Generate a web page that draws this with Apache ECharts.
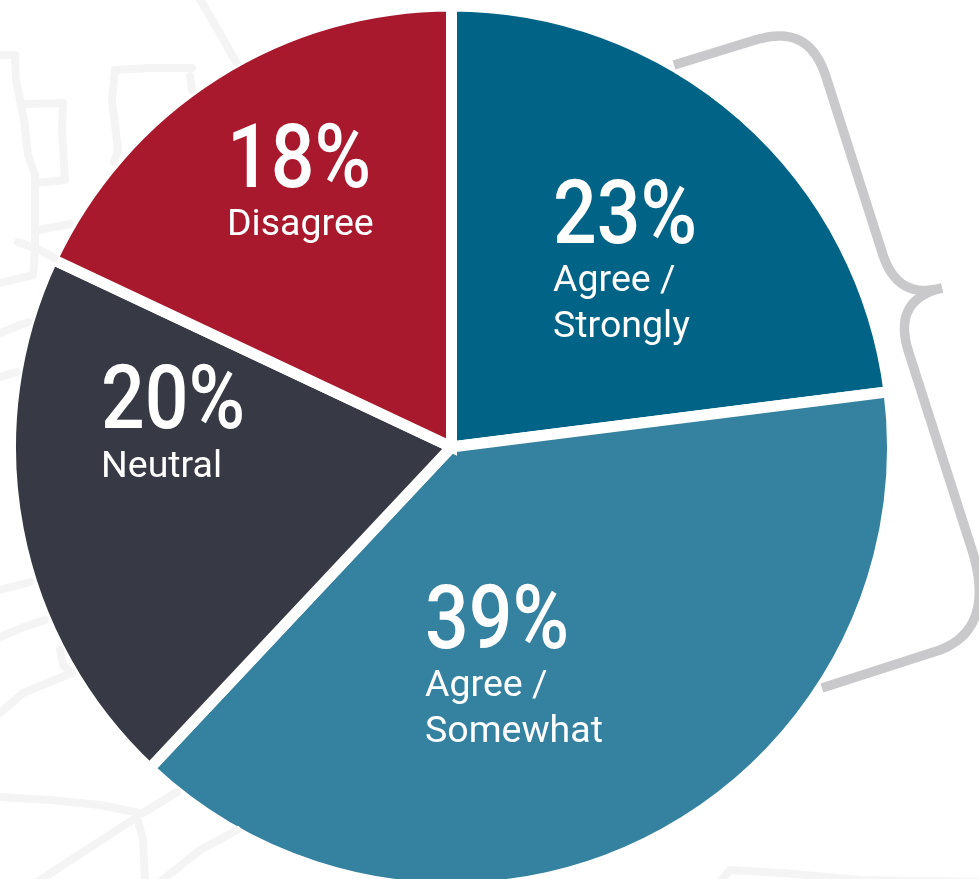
<!DOCTYPE html>
<html>
<head>
<meta charset="utf-8">
<title>Agreement breakdown</title>
<style>
  html, body { margin: 0; padding: 0; background: #ffffff; }
  #chart { width: 979px; height: 879px; }
</style>
<script src="https://cdn.jsdelivr.net/npm/echarts@6/dist/echarts.min.js"></script>
</head>
<body>
<div id="chart"></div>
<script>
// Survey responses, clockwise from twelve o'clock
const categories = ['Agree / Strongly', 'Agree / Somewhat', 'Neutral', 'Disagree'];
const shares = [23, 39, 20, 18];

const sliceColors = ['#016385', '#3582a0', '#373944', '#a9192d'];
const nameSpots = [[553, 259], [425, 664], [101, 445], [227, 203]];
const percentSpots = [[553, 220.5], [425, 625.5], [101, 406], [227, 164.5]];

// Samples cubic segments [x1,y1,x2,y2,x,y] into a single polyline
function curvePoints(start, segments) {
  const pts = [start.slice()];
  let cur = start;
  segments.forEach(function (s) {
    if (s.length === 2) {
      pts.push(s.slice());
      cur = s;
      return;
    }
    for (let i = 1; i <= 24; i++) {
      const t = i / 24, u = 1 - t;
      pts.push([
        u * u * u * cur[0] + 3 * u * u * t * s[0] + 3 * u * t * t * s[2] + t * t * t * s[4],
        u * u * u * cur[1] + 3 * u * u * t * s[1] + 3 * u * t * t * s[3] + t * t * t * s[5]
      ]);
    }
    cur = [s[4], s[5]];
  });
  return pts;
}

// Curly bracket grouping the two "agree" slices
const braceUpper = curvePoints([674, 65], [
  [752, 41],
  [792, 28, 815, 40, 827, 80],
  [882, 252],
  [892, 284, 910, 296, 942, 288]
]);
const braceLower = curvePoints([942, 288], [
  [916, 294, 896, 310, 908, 350],
  [973, 553],
  [988, 604, 976, 636, 940, 650],
  [822, 688]
]);

// Faint hand-drawn backdrop
const sketchLines = [
  [[198, -4], [218, 30], [236, 62]],
  [[0, 55], [15, 55], [16, 80], [24, 120], [28, 155], [35, 175], [35, 250], [33, 275], [0, 283]],
  [[26, 104], [63, 103], [62, 130], [65, 180], [36, 183]],
  [[192, 68], [150, 68], [115, 70], [112, 100], [118, 150], [114, 162]],
  [[190, 76], [192, 90]],
  [[18, 242], [40, 250], [54, 258]],
  [[38, 230], [70, 224]],
  [[0, 333], [28, 322]],
  [[0, 377], [17, 372]],
  [[0, 590], [30, 582]],
  [[0, 637], [24, 627], [45, 620]],
  [[0, 713], [23, 693], [72, 673]],
  [[60, 650], [63, 665], [72, 673]],
  [[0, 797], [50, 800], [100, 805], [140, 813]],
  [[37, 882], [137, 817]],
  [[137, 817], [143, 840], [145, 882]],
  [[143, 813], [177, 792]],
  [[160, 882], [200, 850], [237, 830]],
  [[720, 882], [730, 870], [783, 873], [860, 880], [979, 882]]
];

function stroke(points, color, width, cap) {
  return {
    type: 'polyline',
    z: 3,
    silent: true,
    shape: { points: points },
    style: { fill: null, stroke: color, lineWidth: width, lineCap: cap, lineJoin: 'round' }
  };
}

// Large condensed percentage figures, taken from the same values as the slices
function percentText(value, i) {
  return {
    type: 'text',
    z: 5,
    silent: true,
    x: percentSpots[i][0],
    y: percentSpots[i][1],
    scaleX: 0.87,
    style: {
      text: value + '%',
      fill: '#ffffff',
      font: '500 88.5px Roboto',
      textAlign: 'left',
      textVerticalAlign: 'middle'
    }
  };
}

const chart = echarts.init(document.getElementById('chart'));

chart.setOption({
  animation: false,
  backgroundColor: '#ffffff',
  graphic: {
    elements: sketchLines
      .map(function (l) { return stroke(l, '#f4f4f4', 8, 'round'); })
      .concat([
        stroke(braceUpper, '#c9c9cb', 9.5, 'butt'),
        stroke(braceLower, '#c9c9cb', 9.5, 'butt')
      ])
      .concat(shares.map(percentText))
  },
  series: [{
    type: 'pie',
    silent: true,
    center: [451.5, 447],
    radius: [0, 441],
    startAngle: 90,
    clockwise: true,
    avoidLabelOverlap: false,
    labelLine: { show: false },
    itemStyle: { borderColor: '#ffffff', borderWidth: 11, borderJoin: 'miter' },
    label: {
      show: true,
      position: 'inside',
      align: 'left',
      verticalAlign: 'top',
      fontFamily: 'Roboto',
      fontSize: 37.5,
      lineHeight: 46,
      color: '#ffffff',
      formatter: function (p) {
        return p.name.replace(' / ', ' /\n');
      }
    },
    labelLayout: function (params) {
      const spot = nameSpots[params.dataIndex];
      return { x: spot[0], y: spot[1], align: 'left', verticalAlign: 'top' };
    },
    data: categories.map(function (name, i) {
      return { name: name, value: shares[i], itemStyle: { color: sliceColors[i] } };
    })
  }]
});
</script>
</body>
</html>
